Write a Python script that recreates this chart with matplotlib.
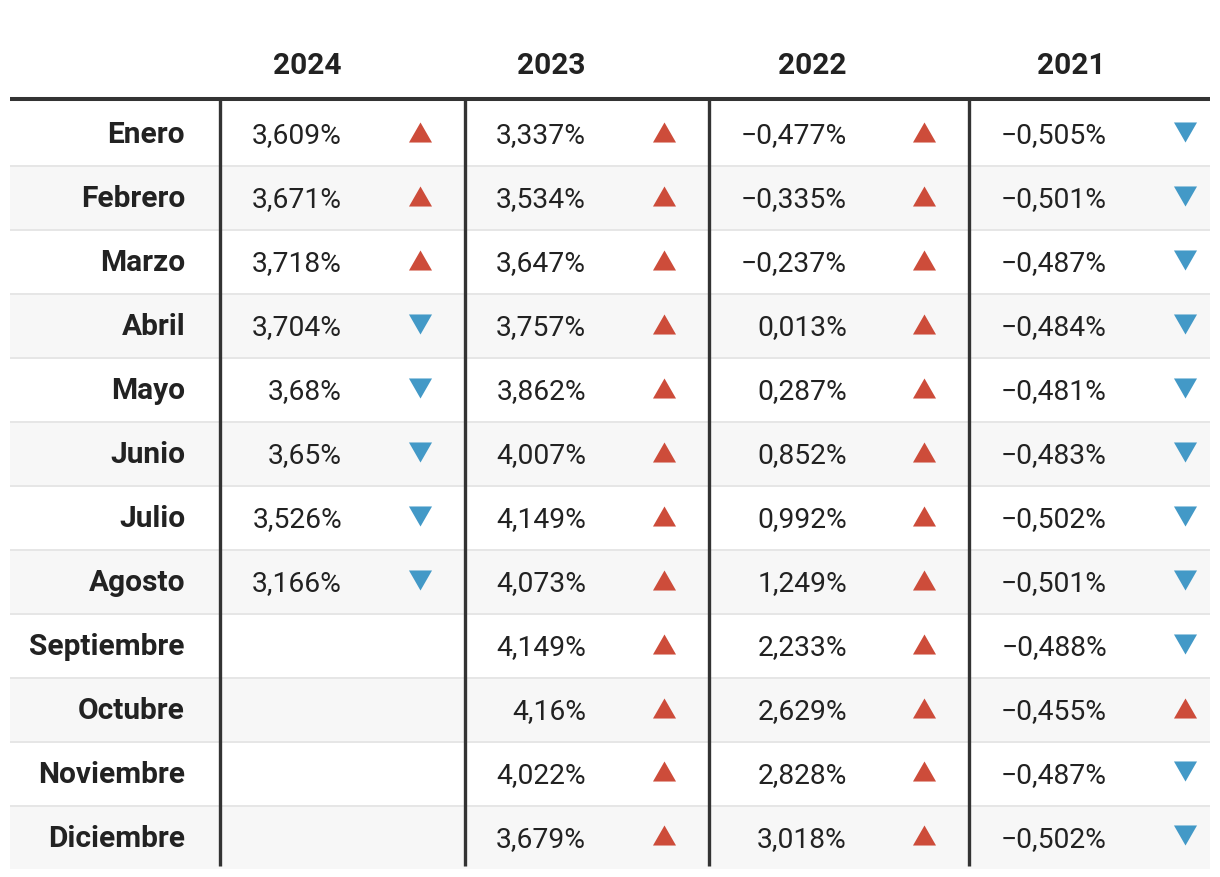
import matplotlib
matplotlib.use("Agg")
import matplotlib.pyplot as plt
from matplotlib.patches import Rectangle

plt.rcParams['font.family'] = ['Roboto', 'DejaVu Sans']

# data
months = ['Enero', 'Febrero', 'Marzo', 'Abril', 'Mayo', 'Junio', 'Julio',
          'Agosto', 'Septiembre', 'Octubre', 'Noviembre', 'Diciembre']
years = ['2024', '2023', '2022', '2021']

v2024 = [3.609, 3.671, 3.718, 3.704, 3.68, 3.65, 3.526, 3.166]
v2023 = [3.337, 3.534, 3.647, 3.757, 3.862, 4.007, 4.149, 4.073, 4.149, 4.16, 4.022, 3.679]
v2022 = [-0.477, -0.335, -0.237, 0.013, 0.287, 0.852, 0.992, 1.249, 2.233, 2.629, 2.828, 3.018]
v2021 = [-0.505, -0.501, -0.487, -0.484, -0.481, -0.483, -0.502, -0.501, -0.488, -0.455, -0.487, -0.502]

d2024 = ['up', 'up', 'up', 'down', 'down', 'down', 'down', 'down']
d2023 = ['up'] * 12
d2022 = ['up'] * 12
d2021 = ['down'] * 9 + ['up', 'down', 'down']

values = [v2024, v2023, v2022, v2021]
trends = [d2024, d2023, d2022, d2021]

# layout (pixels)
W, H = 1220, 878
left, right = 10, 1210
top = 100            # header rule
row_h = 64
col_lines = [220, 465, 709, 969]
head_off = [87, 86, 103, 102]     # header text centre, from column line
val_off = [122, 121, 138, 138]    # value right edge
icon_off = [199.5, 198.5, 214.5, 215.5]
label_right = 185
fs = 20.3
fs_bold = 21.5
txt = '#222222'
red = '#cd4c3a'
blue = '#4399c7'


def fmt(v):
    s = f"{abs(v):.3f}".rstrip('0').rstrip('.')
    s = s.replace('.', ',') + '%'
    return ('\u2212' + s) if v < 0 else s


fig = plt.figure(figsize=(W / 100, H / 100), dpi=100)
ax = fig.add_axes([0, 0, 1, 1])
ax.set_xlim(0, W)
ax.set_ylim(H, 0)
ax.axis('off')

n = len(months)
# row backgrounds and separators
for i in range(n):
    y0 = top + 2 + row_h * i
    if i % 2 == 1:
        ax.add_patch(Rectangle((left, y0), right - left, row_h, color='#f7f7f7', lw=0, zorder=0))
    if i > 0:
        ax.plot([left, right], [y0 + 1, y0 + 1], color='#e6e6e6', lw=1.44, zorder=1,
                solid_capstyle='butt')

bottom = top + 2 + row_h * n - 3
ax.plot([left, right], [top, top], color='#333333', lw=2.9, zorder=3, solid_capstyle='butt')
for x in col_lines:
    ax.plot([x, x], [top, bottom], color='#333333', lw=2.4, zorder=3, solid_capstyle='butt')

# header
for j, yr in enumerate(years):
    ax.text(col_lines[j] + head_off[j], 74, yr, ha='center', va='baseline',
            fontsize=fs_bold, fontweight='bold', color=txt)

up_tri = [(-1, -0.87), (1, -0.87), (0, 0.87)]
down_tri = [(-1, 0.87), (1, 0.87), (0, -0.87)]

for i, m in enumerate(months):
    yc = top + 2 + row_h * i + row_h / 2 - 1
    ax.text(label_right, yc + 10, m, ha='right', va='baseline', fontsize=fs_bold,
            fontweight='bold', color=txt)
    for j in range(len(years)):
        if i >= len(values[j]):
            continue
        ax.text(col_lines[j] + val_off[j], yc + 10, fmt(values[j][i]), ha='right',
                va='baseline', fontsize=fs, color=txt)
        if trends[j][i] == 'up':
            ax.plot(col_lines[j] + icon_off[j], yc - 0.5, marker=up_tri, ms=16.6,
                    color=red, mew=0, zorder=4)
        else:
            ax.plot(col_lines[j] + icon_off[j], yc - 0.5, marker=down_tri, ms=16.6,
                    color=blue, mew=0, zorder=4)

fig.savefig('out.png', dpi=100, facecolor='white')
